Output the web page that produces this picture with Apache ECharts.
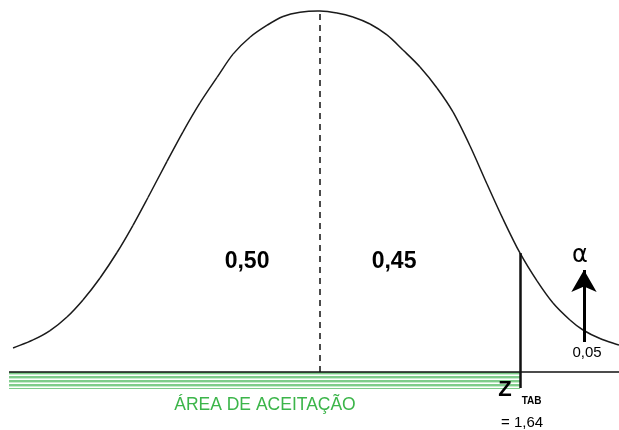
<!DOCTYPE html>
<html>
<head>
<meta charset="utf-8">
<style>
  html, body { margin: 0; padding: 0; background: #ffffff; }
  #chart { width: 619px; height: 430px; }
</style>
<script src="https://cdn.jsdelivr.net/npm/echarts@6/dist/echarts.min.js"></script>
</head>
<body>
<div id="chart"></div>
<script>
// Normal curve: z on x, density on y
const curveZ = [-2.516, -2.352, -2.213, -2.074, -1.943, -1.803, -1.664, -1.533, -1.410, -1.254, -1.123, -0.984, -0.844, -0.713, -0.574, -0.434, -0.303, -0.164, 0,
                0.139, 0.270, 0.410, 0.549, 0.680, 0.820, 0.959, 1.090, 1.230, 1.369, 1.500, 1.639, 1.779, 1.910, 2.049, 2.156, 2.295, 2.451];
const curveDensity = [0.0265, 0.0354, 0.0457, 0.0608, 0.0796, 0.1039, 0.1320, 0.1621, 0.1928, 0.2327, 0.2654, 0.2973, 0.3255, 0.3512, 0.3699, 0.3831, 0.3928, 0.3975, 0.3989,
                      0.3967, 0.3923, 0.3845, 0.3724, 0.3558, 0.3370, 0.3138, 0.2873, 0.2497, 0.2077, 0.1691, 0.1315, 0.1006, 0.0762, 0.0575, 0.0464, 0.0370, 0.0298];

// Critical value and probabilities
const zTab = 1.64;
const zTabDensity = 0.1315;
const meanDensity = 0.3989;
const areaLeft = '0,50';
const areaRight = '0,45';
const alphaValue = '0,05';
const acceptLabel = 'ÁREA DE ACEITAÇÃO';

const xMin = -2.623, xMax = 2.451;
const yMin = -0.0641, yMax = 0.411;
const baseStart = -2.549;

const FONT = '"Liberation Sans", Arial, Helvetica, sans-serif';

// Horizontal hatching for the acceptance band
function hatchPattern() {
  const c = document.createElement('canvas');
  c.width = 8; c.height = 4;
  const g = c.getContext('2d');
  g.fillStyle = '#ffffff';
  g.fillRect(0, 0, 8, 4);
  g.fillStyle = '#7fcc8b';
  g.fillRect(0, 0, 8, 2);
  g.fillStyle = '#c8ebcd';
  g.fillRect(0, 2, 8, 1);
  return c;
}

// Smooth curve through the points (cubic Hermite in screen space)
function renderCurve(params, api) {
  if (params.dataIndex !== 0) return null;
  const p = curveZ.map((z, i) => api.coord([z, curveDensity[i]]));
  const n = p.length;
  const slope = p.map((pt, i) => {
    const a = p[Math.max(i - 1, 0)], b = p[Math.min(i + 1, n - 1)];
    return (b[1] - a[1]) / (b[0] - a[0]);
  });
  const children = [];
  for (let i = 0; i < n - 1; i++) {
    const h = (p[i + 1][0] - p[i][0]) / 3;
    children.push({
      type: 'bezierCurve',
      shape: {
        x1: p[i][0], y1: p[i][1],
        cpx1: p[i][0] + h, cpy1: p[i][1] + slope[i] * h,
        cpx2: p[i + 1][0] - h, cpy2: p[i + 1][1] - slope[i + 1] * h,
        x2: p[i + 1][0], y2: p[i + 1][1]
      },
      style: { fill: null, stroke: '#1a1a1a', lineWidth: 1.5 }
    });
  }
  return { type: 'group', children: children };
}

const chart = echarts.init(document.getElementById('chart'), null, { renderer: 'canvas' });

function textPoint(x, y, text, style) {
  return {
    value: [x, y],
    label: Object.assign({ show: true, formatter: text, position: 'inside', fontFamily: FONT, color: '#000' }, style)
  };
}

chart.setOption({
  animation: false,
  backgroundColor: '#ffffff',
  grid: { left: 0, right: 0, top: 0, bottom: 0 },
  xAxis: { type: 'value', min: xMin, max: xMax, show: false },
  yAxis: { type: 'value', min: yMin, max: yMax, show: false },
  series: [
    {
      name: 'band',
      type: 'line',
      data: [],
      markArea: {
        silent: true,
        itemStyle: { color: { image: hatchPattern(), repeat: 'repeat' } },
        data: [[{ coord: [baseStart, 0] }, { coord: [zTab, -0.0188] }]]
      },
      markLine: {
        silent: true,
        symbol: 'none',
        label: { show: false },
        data: [
          // baseline
          [{ coord: [baseStart, 0] }, { coord: [xMax, 0], lineStyle: { color: '#111', width: 1.5, type: 'solid' } }],
          // mean
          [{ coord: [0, 0] }, { coord: [0, meanDensity], lineStyle: { color: '#111', width: 1.5, type: [6, 5] } }],
          // critical value
          [{ coord: [zTab, -0.0177] }, { coord: [zTab, zTabDensity], lineStyle: { color: '#111', width: 2.5, type: 'solid' } }]
        ]
      }
    },
    {
      name: 'curve',
      type: 'custom',
      silent: true,
      data: [[0, 0]],
      renderItem: renderCurve
    },
    {
      name: 'alpha-arrow',
      type: 'line',
      data: [],
      markLine: {
        silent: true,
        symbol: ['none', 'arrow'],
        symbolSize: [19, 22],
        label: { show: false },
        lineStyle: { color: '#000', width: 3, type: 'solid' },
        data: [[{ coord: [2.164, 0.0331] }, { coord: [2.164, 0.1127] }]]
      }
    },
    {
      name: 'labels',
      type: 'scatter',
      symbolSize: 0,
      silent: true,
      itemStyle: { opacity: 1 },
      data: [
        textPoint(-0.598, 0.1215, areaLeft, { fontSize: 23, fontWeight: 'bold' }),
        textPoint(0.607, 0.1215, areaRight, { fontSize: 23, fontWeight: 'bold' }),
        textPoint(2.131, 0.1285, 'α', { fontSize: 24, fontFamily: '"DejaVu Sans", sans-serif' }),
        textPoint(2.189, 0.0210, alphaValue, { fontSize: 15 }),
        textPoint(1.516, -0.0199, 'Z', { fontSize: 22, fontWeight: 'bold' }),
        textPoint(1.734, -0.0326, 'TAB', { fontSize: 10, fontWeight: 'bold' }),
        textPoint(1.656, -0.0564, '= ' + zTab.toFixed(2).replace('.', ','), { fontSize: 15 }),
        textPoint(-0.451, -0.0372, acceptLabel, { fontSize: 17.5, color: '#3cb54a' })
      ]
    }
  ]
});
</script>
</body>
</html>
